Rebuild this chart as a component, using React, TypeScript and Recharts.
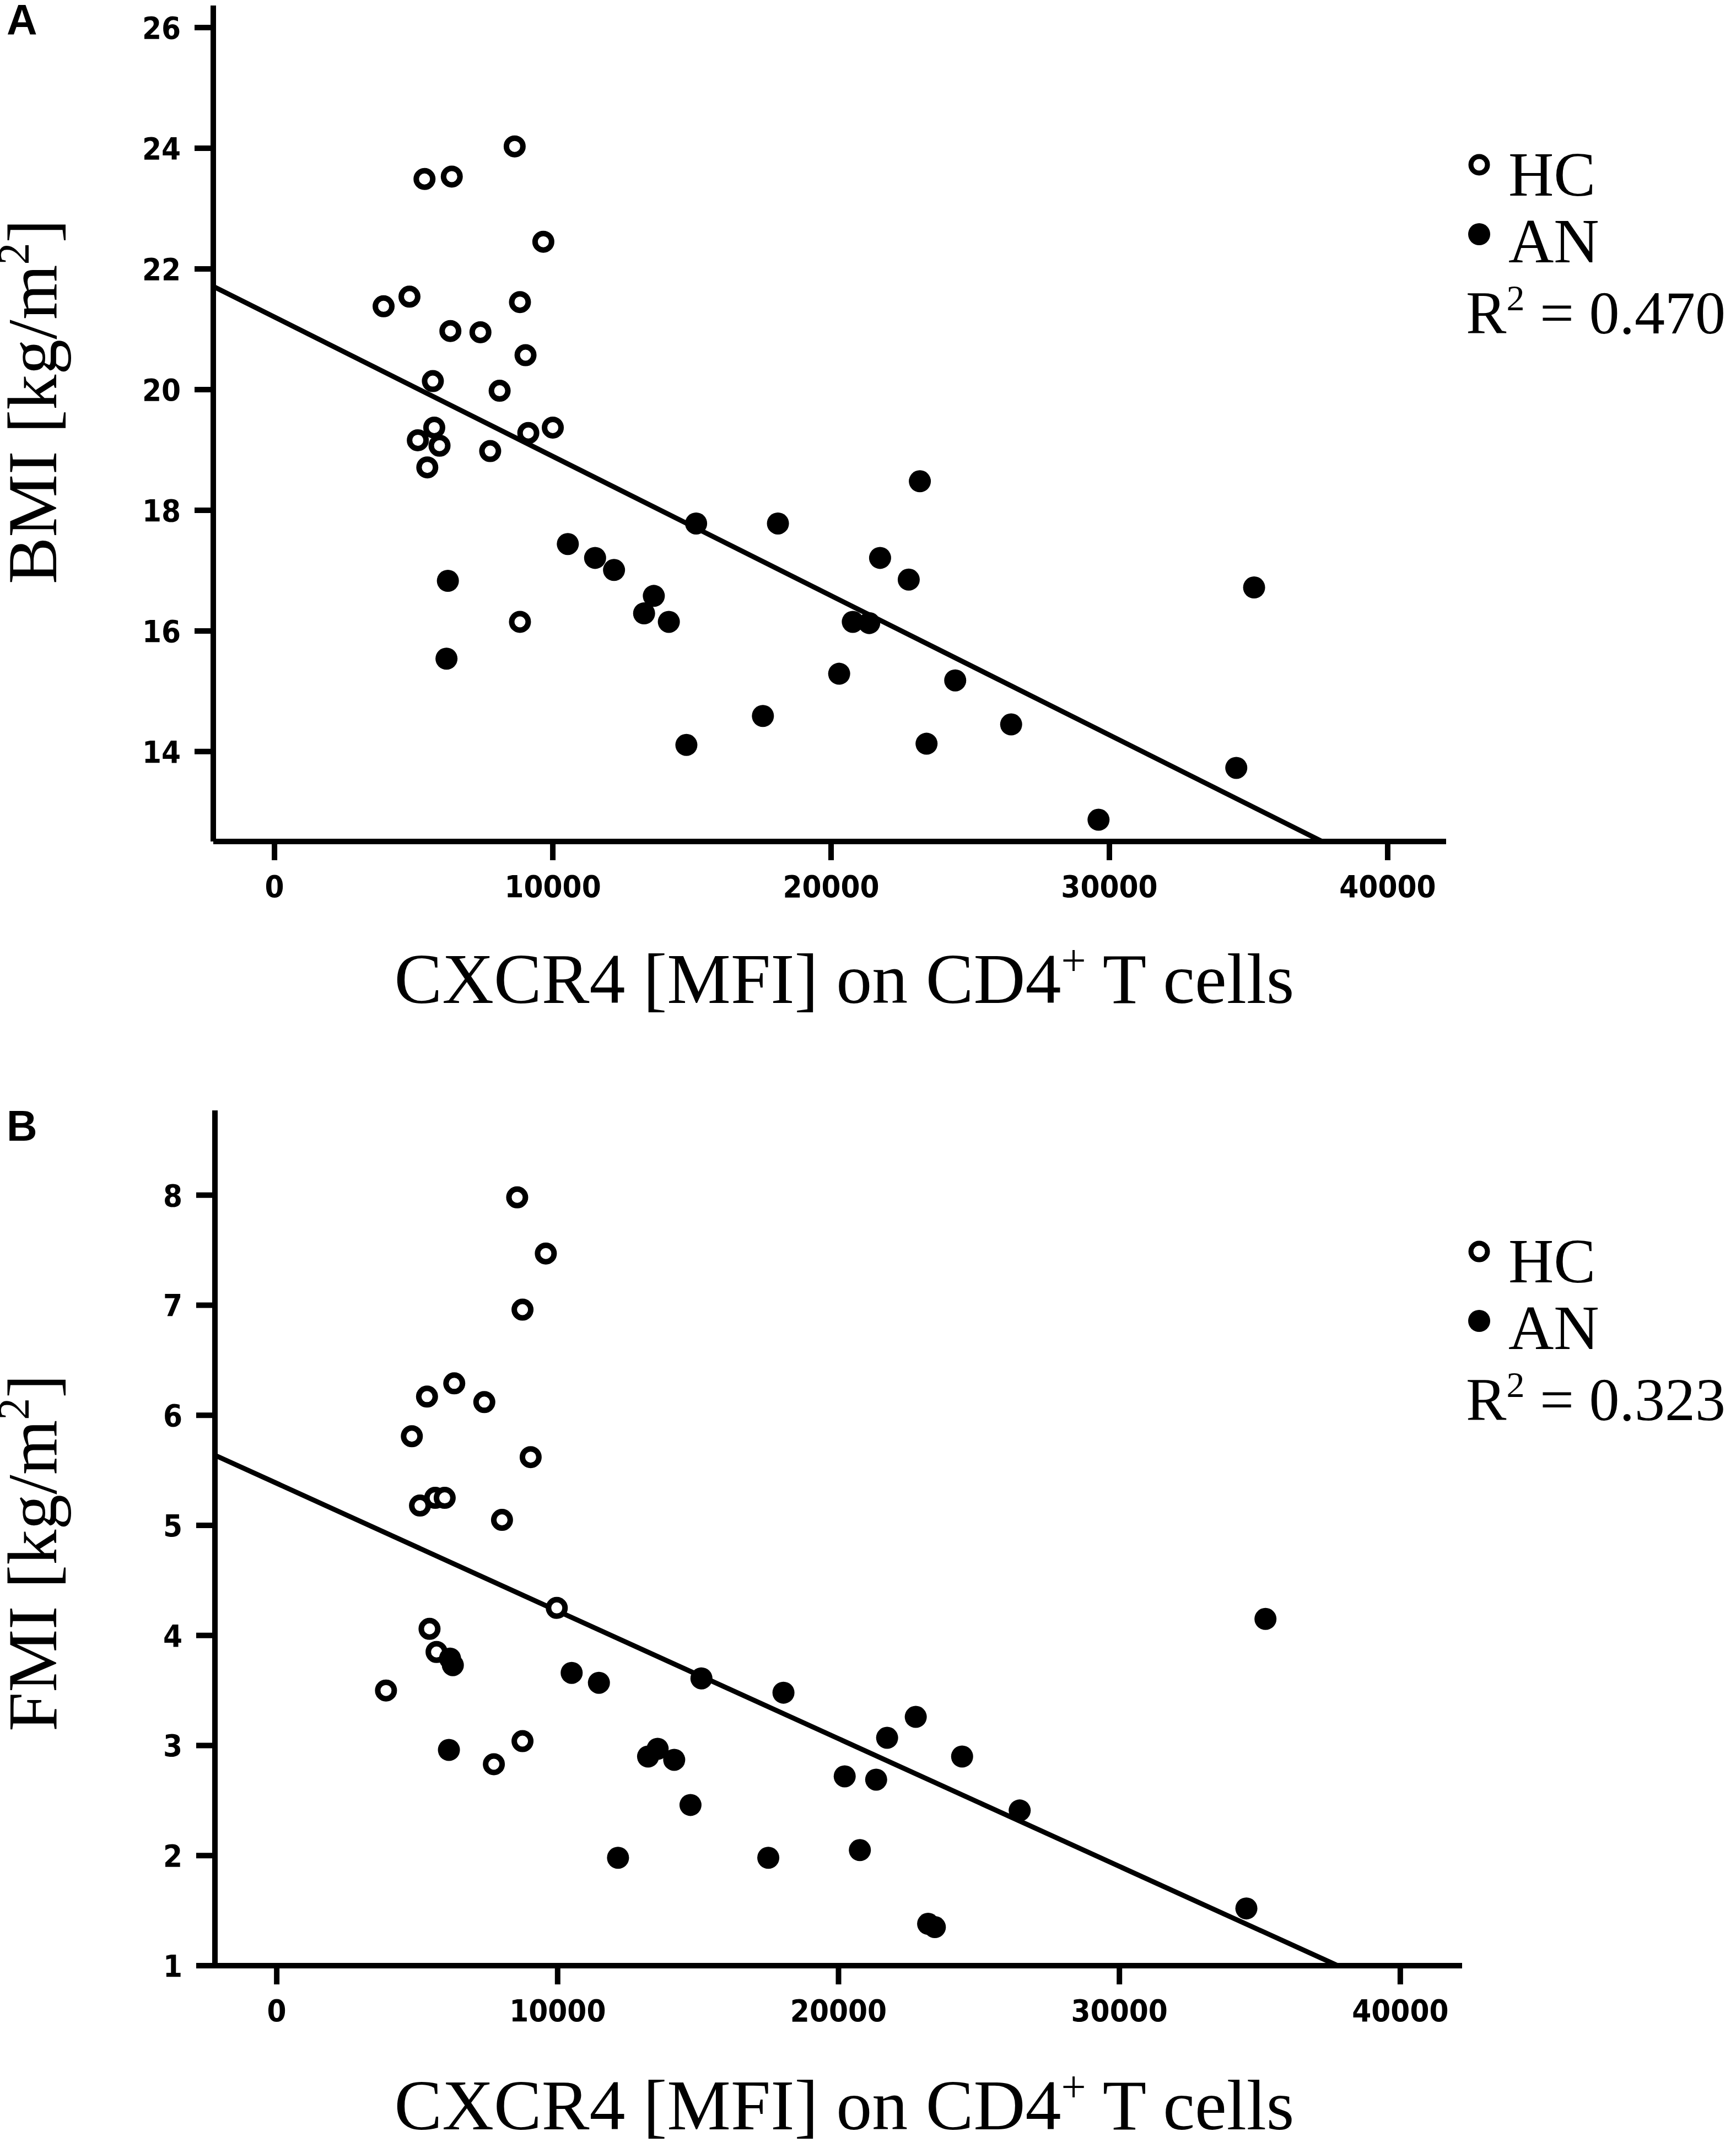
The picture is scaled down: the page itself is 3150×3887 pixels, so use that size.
import { ScatterChart, Scatter, XAxis, YAxis, ReferenceLine, Legend, Label } from 'recharts';

// Panel A: BMI vs CXCR4 MFI
const bmiHcX = [3920, 4850, 5390, 6370, 8630, 9660, 8820, 6320, 7400, 9020, 5690, 8090, 5150, 5740, 5930, 5490, 7750, 9120, 10000, 8820];
const bmiHcY = [21.38, 21.54, 23.49, 23.53, 24.03, 22.45, 21.45, 20.97, 20.95, 20.57, 20.14, 19.98, 19.16, 19.37, 19.07, 18.71, 18.98, 19.28, 19.37, 16.15];
const bmiAnX = [6230, 6180, 10540, 11520, 12200, 13280, 13630, 14170, 14800, 15150, 17550, 18090, 20290, 20780, 21370, 21760, 23190, 22790, 24460, 23430, 26470, 29610, 34560, 35200];
const bmiAnY = [16.83, 15.54, 17.44, 17.21, 17.01, 16.29, 16.58, 16.15, 14.11, 17.78, 14.59, 17.78, 15.29, 16.15, 16.13, 17.21, 18.48, 16.85, 15.18, 14.13, 14.45, 12.87, 13.73, 16.72];

// Panel B: FMI vs CXCR4 MFI
const fmiHcX = [3890, 4810, 5100, 5350, 5440, 5690, 5640, 5980, 6320, 7390, 7730, 8020, 8560, 8750, 8750, 9040, 9580, 9970];
const fmiHcY = [3.5, 5.81, 5.18, 6.17, 4.06, 3.85, 5.25, 5.25, 6.29, 6.12, 2.83, 5.05, 7.98, 6.96, 3.04, 5.62, 7.47, 4.25];
const fmiAnX = [6170, 6270, 6130, 10500, 11470, 12150, 13220, 13560, 14150, 14730, 15120, 17500, 18040, 20220, 20760, 21340, 21730, 22750, 23190, 23430, 24400, 26450, 34520, 35200];
const fmiAnY = [3.79, 3.73, 2.96, 3.66, 3.57, 1.98, 2.9, 2.97, 2.87, 2.46, 3.61, 1.98, 3.48, 2.72, 2.05, 2.69, 3.07, 3.26, 1.38, 1.35, 2.9, 2.41, 1.52, 4.15];

const xTicks = [0, 10000, 20000, 30000, 40000];
const bmiTicks = [14, 16, 18, 20, 22, 24, 26];
const fmiTicks = [1, 2, 3, 4, 5, 6, 7, 8];

// regression fits
const bmiFit = { intercept: 21.202, slope: -2.309e-4, r2: '0.470' };
const fmiFit = { intercept: 5.382, slope: -1.16e-4, r2: '0.323' };

const groups = ['HC', 'AN'];

const serif = "'Liberation Serif', 'Times New Roman', serif";
const narrow = "'Liberation Sans Narrow', 'Arial Narrow', 'DejaVu Sans Condensed', sans-serif";

const zip = (xs: number[], ys: number[]) => xs.map((x, i) => ({ x, y: ys[i] }));

const OpenDot = (p: any) => <circle cx={p.cx} cy={p.cy} r={15} fill="#fff" stroke="#000" strokeWidth={10} />;
const FilledDot = (p: any) => <circle cx={p.cx} cy={p.cy} r={20} fill="#000" />;

function LegendBox({ r2 }: { r2: string }) {
  return (
    <svg width={545} height={420} style={{ display: 'block', overflow: 'visible' }}>
      <circle cx={84} cy={79} r={15} fill="#fff" stroke="#000" strokeWidth={9} />
      <text x={137} y={135} fontFamily={serif} fontSize={114} fill="#000">{groups[0]}</text>
      <circle cx={84} cy={205} r={20} fill="#000" />
      <text x={137} y={256} fontFamily={serif} fontSize={114} fill="#000">{groups[1]}</text>
      <text x={60} y={385} fontFamily={serif} fontSize={110} fill="#000">
        R<tspan dy={-42} fontSize={66}>2</tspan><tspan dy={42}> = {r2}</tspan>
      </text>
    </svg>
  );
}

interface PanelProps {
  letter: string;
  letterY: number;
  yLabel: string;
  yLabelY: number;
  xLabelY: number;
  legendTop: number;
  hc: { x: number; y: number }[];
  an: { x: number; y: number }[];
  xDomain: [number, number];
  yDomain: [number, number];
  yTicks: number[];
  fit: { intercept: number; slope: number; r2: string };
  height: number;
  margin: { top: number; right: number; left: number; bottom: number };
  yAxisWidth: number;
  xAxisHeight: number;
}

function Panel(p: PanelProps) {
  const tick = { fill: '#000', fontSize: 56, fontFamily: narrow, fontWeight: 700 };
  const axis = { stroke: '#000', strokeWidth: 10 };
  const x0 = p.xDomain[0];
  const x1 = (p.yDomain[0] - p.fit.intercept) / p.fit.slope;
  return (
    <ScatterChart width={3150} height={p.height} margin={p.margin}>
      <XAxis
        type="number"
        dataKey="x"
        domain={p.xDomain}
        ticks={xTicks}
        allowDataOverflow
        height={p.xAxisHeight}
        axisLine={axis}
        tickLine={axis}
        tickSize={34}
        tickMargin={27}
        tick={tick}
      >
        <Label
          content={() => (
            <text x={1532} y={p.xLabelY} textAnchor="middle" fontFamily={serif} fontSize={130} fill="#000">
              CXCR4 [MFI] on CD4<tspan dy={-50} fontSize={80}>+</tspan><tspan dy={50}> T cells</tspan>
            </text>
          )}
        />
      </XAxis>
      <YAxis
        type="number"
        dataKey="y"
        domain={p.yDomain}
        ticks={p.yTicks}
        allowDataOverflow
        width={p.yAxisWidth}
        axisLine={axis}
        tickLine={axis}
        tickSize={34}
        tickMargin={25}
        tick={tick}
      >
        <Label
          content={() => (
            <g>
              <text x={12} y={p.letterY} fontFamily="'Liberation Sans', Arial, sans-serif" fontWeight={700} fontSize={77} fill="#000">
                {p.letter}
              </text>
              <text
                x={102}
                y={p.yLabelY}
                transform={`rotate(-90, 102, ${p.yLabelY})`}
                textAnchor="middle"
                fontFamily={serif}
                fontSize={128}
                fill="#000"
              >
                {p.yLabel} [kg/m<tspan dy={-50} fontSize={80}>2</tspan><tspan dy={50}>]</tspan>
              </text>
            </g>
          )}
        />
      </YAxis>
      <ReferenceLine
        segment={[
          { x: x0, y: p.fit.intercept + p.fit.slope * x0 },
          { x: x1, y: p.yDomain[0] },
        ]}
        stroke="#000"
        strokeWidth={9}
      />
      <Scatter name={groups[0]} data={p.hc} shape={OpenDot} isAnimationActive={false} />
      <Scatter name={groups[1]} data={p.an} shape={FilledDot} isAnimationActive={false} />
      <Legend
        layout="vertical"
        align="center"
        verticalAlign="middle"
        wrapperStyle={{ left: 2600, top: p.legendTop, width: 545, height: 420 }}
        content={() => <LegendBox r2={p.fit.r2} />}
      />
    </ScatterChart>
  );
}

export default function App() {
  return (
    <div style={{ width: 3150, height: 3887, background: '#fff', position: 'relative' }}>
      <style>{'body{margin:0;background:#fff}'}</style>
      <Panel
        letter="A"
        letterY={63}
        yLabel="BMI"
        yLabelY={729}
        xLabelY={1820}
        legendTop={220}
        hc={zip(bmiHcX, bmiHcY)}
        an={zip(bmiAnX, bmiAnY)}
        xDomain={[-2200, 42100]}
        yDomain={[12.51, 26.365]}
        yTicks={bmiTicks}
        fit={bmiFit}
        height={1940}
        margin={{ top: 10, right: 526, left: 0, bottom: 0 }}
        yAxisWidth={387}
        xAxisHeight={413}
      />
      <Panel
        letter="B"
        letterY={130}
        yLabel="FMI"
        yLabelY={878}
        xLabelY={1924}
        legendTop={252}
        hc={zip(fmiHcX, fmiHcY)}
        an={zip(fmiAnX, fmiAnY)}
        xDomain={[-2200, 42200]}
        yDomain={[1, 8.77]}
        yTicks={fmiTicks}
        fit={fmiFit}
        height={1947}
        margin={{ top: 75, right: 497, left: 0, bottom: 0 }}
        yAxisWidth={390}
        xAxisHeight={320}
      />
    </div>
  );
}
